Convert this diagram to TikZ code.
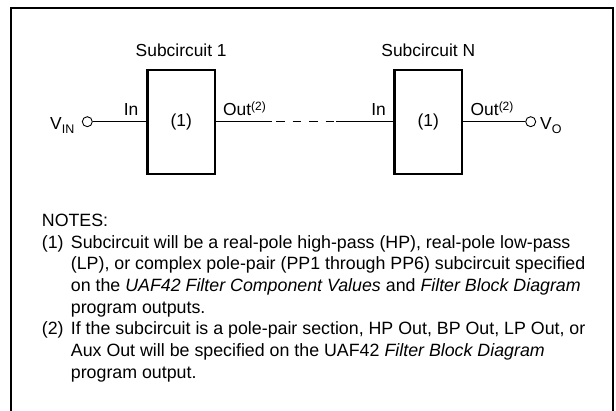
\documentclass[tikz,border=0pt]{standalone}
\usepackage{fontspec}
\setmainfont{Liberation Sans}
\newcommand\subr[1]{\raisebox{-4pt}{\fontsize{12.5}{12.5}\selectfont #1}}
\newcommand\supr[1]{\raisebox{5.5pt}{\fontsize{12}{12}\selectfont #1}}
\begin{document}
\begin{tikzpicture}[x=1pt,y=-1pt,
  lbl/.style={inner sep=0pt, font=\fontsize{17.4}{20}\selectfont},
  note/.style={inner sep=0pt, anchor=base west, font=\fontsize{17.8}{21.7}\selectfont},
  block/.style={draw, line width=2.2pt, minimum width=67.5pt, minimum height=104pt, inner sep=0pt, font=\fontsize{17.4}{20}\selectfont},
  term/.style={draw, circle, line width=0.9pt, minimum size=10pt, inner sep=0pt},
  wire/.style={line width=1pt}]
\useasboundingbox (0,0) rectangle (616,411);
\draw[line width=2.4pt] (11,412) -- (11,8) -- (613,8) -- (613,412);
% blocks
\node[block] (b1) at (181.2,121.7) {(1)};
\node[block] (bn) at (428.3,121.7) {(1)};
\node[lbl, anchor=base] (s1) at (181.2,57) {Subcircuit 1};
\node[lbl, anchor=base] (sn) at (428.3,57) {Subcircuit N};
% terminals
\node[term] (vin) at (87.3,121.7) {};
\node[term] (vo) at (530.7,121.7) {};
\node[lbl, anchor=base west] (vinl) at (50,129.5) {V\subr{IN}};
\node[lbl, anchor=base west] (vol) at (540,129.5) {V\subr{O}};
% pin labels
\node[lbl, anchor=base east] (in1) at (138.5,116) {In};
\node[lbl, anchor=base west] (out1) at (223,116) {Out\supr{(2)}};
\node[lbl, anchor=base east] (inn) at (386,116) {In};
\node[lbl, anchor=base west] (outn) at (470.5,116) {Out\supr{(2)}};
% wires
\coordinate (d1) at (272,121.7);
\coordinate (d2) at (336,121.7);
\draw[wire] (vin) -- (b1);
\draw[wire] (b1) -- (d1);
\draw[wire, dash pattern=on 8.5pt off 8pt, dash phase=12.5pt] (d1) -- (d2);
\draw[wire] (d2) -- (bn);
\draw[wire] (bn) -- (vo);
% notes
\node[note] (nh) at (41.7,226.7) {NOTES:};
\node[note] (n1) at (41.7,248.2) {(1)};
\node[note] (n1a) at (70.7,248.2) {Subcircuit will be a real-pole high-pass (HP), real-pole low-pass};
\node[note] (n1b) at (70.7,269.9) {(LP), or complex pole-pair (PP1 through PP6) subcircuit specified};
\node[note] (n1c) at (70.7,291.6) {on the \textit{UAF42 Filter Component Values} and \textit{Filter Block Diagram}};
\node[note] (n1d) at (70.7,313.3) {program outputs.};
\node[note] (n2) at (41.7,335) {(2)};
\node[note] (n2a) at (70.7,335) {If the subcircuit is a pole-pair section, HP Out, BP Out, LP Out, or};
\node[note] (n2b) at (70.7,356.7) {Aux Out will be specified on the UAF42 \textit{Filter Block Diagram}};
\node[note] (n2c) at (70.7,378.4) {program output.};
\end{tikzpicture}
\end{document}
